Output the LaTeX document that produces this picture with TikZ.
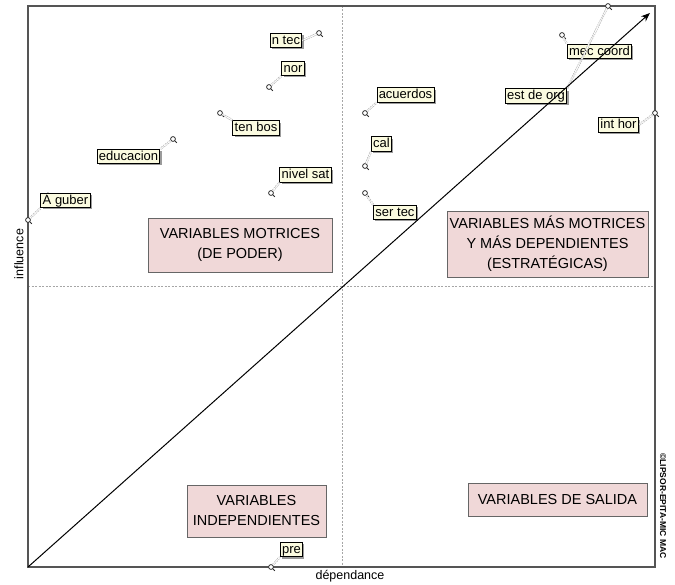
\documentclass[tikz,border=0pt]{standalone}
\usepackage{fontspec}
\setmainfont{Liberation Sans}
\usetikzlibrary{shadows,arrows.meta}
\definecolor{cream}{HTML}{FBFBE0}
\definecolor{pinkbox}{HTML}{F0D8D8}
\definecolor{frame}{HTML}{555555}
\tikzset{
  lbl/.style={draw=black, fill=cream, line width=0.9pt, inner xsep=1.8pt, inner ysep=1pt,
    text height=9.8pt, text depth=2.6pt, font=\fontsize{13}{14}\selectfont,
    drop shadow={shadow xshift=1.8pt, shadow yshift=-1.8pt, fill=gray!70!black, opacity=0.6}},
  zone/.style={draw=gray!80!black, fill=pinkbox, line width=0.7pt, align=center,
    font=\fontsize{14.5}{20}\selectfont, inner sep=0pt},
  pt/.style={circle, draw=gray!35!black, fill=white, line width=0.8pt, inner sep=0pt, minimum size=4.8pt},
  tail/.style={draw=gray!35!black, line width=1pt},
  leader/.style={draw=gray!65, double=white, double distance=1pt, line width=0.55pt, dash pattern=on 1.5pt off 1pt},
  divider/.style={draw=gray!70, line width=0.7pt, dash pattern=on 2pt off 1.5pt},
}
\begin{document}
\begin{tikzpicture}[x=1pt,y=-1pt]
\useasboundingbox[fill=white] (0,0) rectangle (675,585);
% frame
\coordinate (tl) at (28,6);
\coordinate (br) at (655,567);
\draw[divider] (342,6) -- (342,567);
\draw[divider] (28,286) -- (655,286);
\draw[frame, line width=1.2pt] (tl) rectangle (br);
% zones
\node[zone, minimum width=184pt, minimum height=54pt] (zmot) at (240,245) {VARIABLES MOTRICES\\(DE PODER)};
\node[zone, minimum width=201pt, minimum height=66pt] (zest) at (547.5,244) {VARIABLES MÁS MOTRICES\\Y MÁS DEPENDIENTES\\(ESTRATÉGICAS)};
\node[zone, minimum width=139pt, minimum height=52pt] (zind) at (256.5,511) {VARIABLES\\INDEPENDIENTES};
\node[zone, minimum width=179pt, minimum height=33pt] (zsal) at (557.5,499.5) {VARIABLES DE SALIDA};
% axis labels
\node[font=\fontsize{12.5}{14}\selectfont, rotate=90] (yl) at (19,254) {influence};
\node[font=\fontsize{12.5}{14}\selectfont] (xl) at (350,576) {dépendance};
\node[font=\bfseries\fontsize{8.5}{10}\selectfont, rotate=-90] (copy) at (663,506) {©LIPSOR-EPITA-MIC MAC};
% points
\node[pt] (p-ntec) at (319,33) {};
\node[pt] (p-nor) at (269,87) {};
\node[pt] (p-tenbos) at (220,113) {};
\node[pt] (p-educ) at (173,139) {};
\node[pt] (p-nivel) at (271,193) {};
\node[pt] (p-aguber) at (28,220) {};
\node[pt] (p-acuer) at (365,113) {};
\node[pt] (p-cal) at (365,166) {};
\node[pt] (p-sertec) at (365,193) {};
\node[pt] (p-estorg) at (608,6) {};
\node[pt] (p-mec) at (562,35) {};
\node[pt] (p-inthor) at (655,113) {};
\node[pt] (p-pre) at (271,567) {};
\foreach \p in {ntec,nor,tenbos,educ,nivel,aguber,acuer,cal,sertec,estorg,mec,inthor,pre}
  \draw[tail] (p-\p.south east) -- ++(1.8,1.8);
% label nodes
\node[lbl] (ntec) at (286,40.5) {n tec};
\node[lbl] (nor) at (293,68.5) {nor};
\node[lbl] (tenbos) at (256,128) {ten bos};
\node[lbl] (educ) at (128.5,156.5) {educacion};
\node[lbl] (nivel) at (305.5,175) {nivel sat};
\node[lbl] (aguber) at (65.5,200.5) {Á guber};
\node[lbl] (acuer) at (405.5,95) {acuerdos};
\node[lbl] (cal) at (381.5,144) {cal};
\node[lbl] (sertec) at (395,212.5) {ser tec};
\node[lbl] (estorg) at (536,96) {est de org};
\node[lbl] (mec) at (599.5,51.5) {mec coord};
\node[lbl] (inthor) at (618.5,125) {int hor};
\node[lbl] (pre) at (291.5,549.5) {pre};
% leaders
\draw[leader] (p-ntec) -- (ntec.east);
\draw[leader] (p-nor) -- (nor.south west);
\draw[leader] (p-tenbos) -- (tenbos.north west);
\draw[leader] (p-educ) -- (educ.north east);
\draw[leader] (p-nivel) -- (nivel.south west);
\draw[leader] (p-aguber) -- (aguber.south west);
\draw[leader] (p-acuer) -- (acuer.south west);
\draw[leader] (p-cal) -- (cal.south west);
\draw[leader] (p-sertec) -- (sertec.north west);
\draw[leader] (p-estorg) -- (estorg.north east);
\draw[leader] (p-mec) -- (mec.north west);
\draw[leader] (p-inthor) -- (inthor.east);
\draw[leader] (p-pre) -- (pre.south west);
% diagonal arrow
\coordinate (origin) at (28,567);
\coordinate (tip) at (650,13);
\draw[line width=1pt, -{Stealth[length=9pt, width=7pt]}] (origin) -- (tip);
\end{tikzpicture}
\end{document}
